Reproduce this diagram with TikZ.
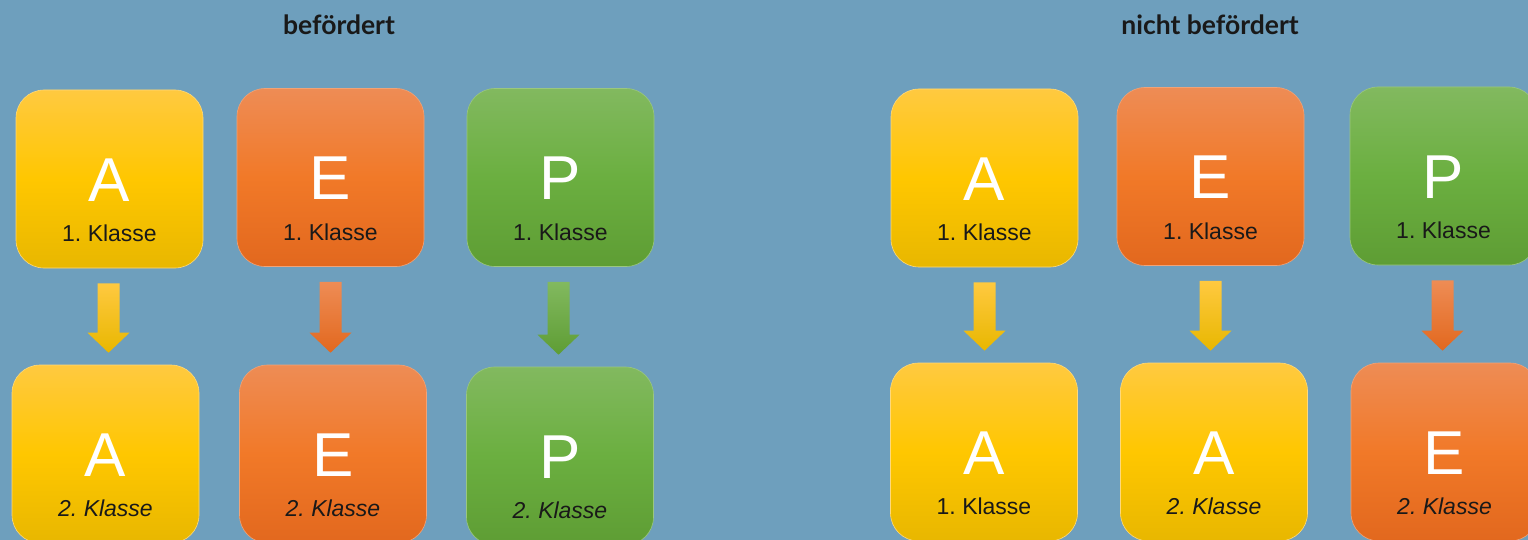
\documentclass[tikz,border=0pt]{standalone}
\usepackage{fontspec}
\setmainfont{Liberation Sans}
\newfontfamily\titlefont{Lato}
\usetikzlibrary{calc}
\frenchspacing
\definecolor{bg}{RGB}{110,159,189}
\definecolor{yT}{RGB}{255,201,64}
\definecolor{yM}{RGB}{255,199,0}
\definecolor{yB}{RGB}{232,183,0}
\definecolor{oT}{RGB}{238,140,85}
\definecolor{oM}{RGB}{241,121,40}
\definecolor{oB}{RGB}{226,104,30}
\definecolor{gT}{RGB}{130,185,95}
\definecolor{gM}{RGB}{107,175,64}
\definecolor{gB}{RGB}{94,157,52}
\tikzset{
  box/.style={rounded corners=28pt, minimum width=187pt, minimum height=178pt, inner sep=0pt},
  ybox/.style={box, draw=yT!70!white, line width=0.6pt, top color=yT, bottom color=yB, middle color=yM},
  obox/.style={box, draw=oT!80!white, line width=0.6pt, top color=oT, bottom color=oB, middle color=oM},
  gbox/.style={box, draw=gT!80!white, line width=0.6pt, top color=gT, bottom color=gB, middle color=gM},
  letter/.style={text=white, font=\fontsize{62}{62}\selectfont, inner sep=0pt},
  klasse/.style={text=black!90, font=\fontsize{23}{23}\selectfont\frenchspacing, inner sep=0pt},
  ttl/.style={font=\titlefont\bfseries\fontsize{26.5}{26.5}\selectfont, text=black!90, inner sep=0pt, anchor=base}
}
\newcommand\boxlabels[3]{%
  \node[letter] (#1-l) at ($(#1.north)+(0,90)$) {#2};
  \node[klasse] (#1-k) at ($(#1.north)+(0,144)$) {#3};
}
\newcommand\blockarrow[4]{%
  \coordinate (#1-t) at ($(#1.south)+(#4,15)$);
  \coordinate (#1-h) at ($(#1.south |- #2.north)+(#4,-12)$);
  \shade[top color=#3T, bottom color=#3B]
    ($(#1-t)+(-11,0)$) -- ($(#1-t)+(11,0)$) -- ($(#1-h)+(11,-20)$) -- ($(#1-h)+(21,-20)$)
    -- (#1-h) -- ($(#1-h)+(-21,-20)$) -- ($(#1-h)+(-11,-20)$) -- cycle;
}
\begin{document}
\begin{tikzpicture}[x=1pt,y=-1pt]
\useasboundingbox (0,0) rectangle (1528,540);
\fill[bg] (0,0) rectangle (1528,540);
\clip (0,0) rectangle (1528,540);

\node[ttl] (t1) at (339,35) {befördert};
\node[ttl] (t2) at (1210,35) {nicht befördert};

% left group
\node[ybox] (la1) at (109.5,179) {};
\node[obox] (le1) at (330.5,177.5) {};
\node[gbox] (lp1) at (560.5,177.5) {};
\node[ybox] (la2) at (105.5,454) {};
\node[obox] (le2) at (333,454) {};
\node[gbox] (lp2) at (560,456) {};
\boxlabels{la1}{A}{1. Klasse}
\boxlabels{le1}{E}{1. Klasse}
\boxlabels{lp1}{P}{1. Klasse}
\boxlabels{la2}{A}{\itshape 2. Klasse}
\boxlabels{le2}{E}{\itshape 2. Klasse}
\boxlabels{lp2}{P}{\itshape 2. Klasse}
\blockarrow{la1}{la2}{y}{-1}
\blockarrow{le1}{le2}{o}{0}
\blockarrow{lp1}{lp2}{g}{-2}

% right group
\node[ybox] (ra1) at (984.5,178) {};
\node[obox] (re1) at (1210.5,176.5) {};
\node[gbox] (rp1) at (1443.5,176) {};
\node[ybox] (ra2) at (984,452) {};
\node[ybox] (rx2) at (1214,452) {};
\node[obox] (re2) at (1444.5,452) {};
\boxlabels{ra1}{A}{1. Klasse}
\boxlabels{re1}{E}{1. Klasse}
\boxlabels{rp1}{P}{1. Klasse}
\boxlabels{ra2}{A}{1. Klasse}
\boxlabels{rx2}{A}{\itshape 2. Klasse}
\boxlabels{re2}{E}{\itshape 2. Klasse}
\blockarrow{ra1}{ra2}{y}{0}
\blockarrow{re1}{rx2}{y}{0}
\blockarrow{rp1}{re2}{o}{-1}
\end{tikzpicture}
\end{document}
